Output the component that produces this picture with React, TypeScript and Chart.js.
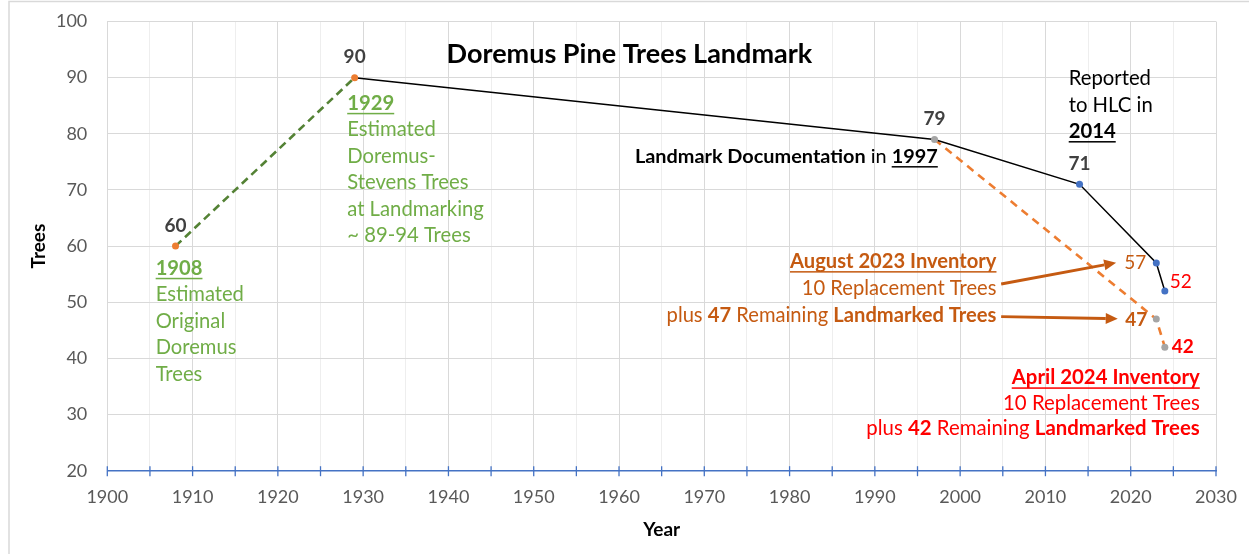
import React, { useEffect, useRef } from 'react';
import { Chart, registerables } from 'chart.js';

Chart.register(...registerables);

// ---------- data ----------
const X_MIN = 1900;
const X_MAX = 2030;
const X_STEP = 5;
const Y_MIN = 20;
const Y_MAX = 100;
const Y_STEP = 10;

const earlyYears = [1908, 1929];
const earlyTrees = [60, 90];

const documentedYears = [1929, 1997, 2014, 2023, 2024];
const documentedTrees = [90, 79, 71, 57, 52];

const landmarkedYears = [1997, 2023, 2024];
const landmarkedTrees = [79, 47, 42];

// ---------- styles ----------
const FONT = 'Lato, "Open Sans", "DejaVu Sans", sans-serif';
const GREEN = '#70AD47';
const DARK_GREEN = '#548235';
const ORANGE = '#ED7D31';
const BROWN = '#C55A11';
const RED = '#FF0000';
const GRAY_PT = '#A5A5A5';
const BLUE = '#4472C4';
const LABEL_DARK = '#404040';
const TICK_COLOR = '#595959';

type LabelStyle = { pos: 'top' | 'left' | 'right'; color: string; bold: boolean; dx?: number; dy?: number } | null;

const earlyLabels: LabelStyle[] = [
  { pos: 'top', color: LABEL_DARK, bold: true },
  { pos: 'top', color: LABEL_DARK, bold: true },
];
const documentedLabels: LabelStyle[] = [
  null,
  { pos: 'top', color: LABEL_DARK, bold: true },
  { pos: 'top', color: LABEL_DARK, bold: true },
  { pos: 'left', color: BROWN, bold: false, dx: -10, dy: 0 },
  { pos: 'right', color: RED, bold: false, dx: 5, dy: -9.5 },
];
const landmarkedLabels: LabelStyle[] = [
  null,
  { pos: 'left', color: BROWN, bold: true, dx: -9, dy: 1 },
  { pos: 'right', color: RED, bold: true, dx: 7, dy: 0 },
];

type Seg = { t: string; b?: boolean; u?: boolean };
type Block = {
  at: [number, number];
  align: 'left' | 'right' | 'center';
  color: string;
  lh: number;
  fit: [number, number];
  lines: Seg[][];
};

const blocks: Block[] = [
  {
    at: [1961.22, 92.61], align: 'center', color: '#000000', lh: 0, fit: [0, 366],
    lines: [[{ t: 'Doremus Pine Trees Landmark', b: true }]],
  },
  {
    at: [1905.67, 54.86], align: 'left', color: GREEN, lh: 26.4, fit: [1, 88.3],
    lines: [
      [{ t: '1908', b: true, u: true }],
      [{ t: 'Estimated' }],
      [{ t: 'Original' }],
      [{ t: 'Doremus' }],
      [{ t: 'Trees' }],
    ],
  },
  {
    at: [1928.13, 84.24], align: 'left', color: GREEN, lh: 26.5, fit: [4, 136.7],
    lines: [
      [{ t: '1929', b: true, u: true }],
      [{ t: 'Estimated' }],
      [{ t: 'Doremus-' }],
      [{ t: 'Stevens Trees' }],
      [{ t: 'at Landmarking' }],
      [{ t: '~ 89-94 Trees' }],
    ],
  },
  {
    at: [1997.38, 74.75], align: 'right', color: '#000000', lh: 0, fit: [0, 303.3],
    lines: [[{ t: 'Landmark Documentation', b: true }, { t: ' in ' }, { t: '1997', b: true, u: true }]],
  },
  {
    at: [2012.73, 88.69], align: 'left', color: '#000000', lh: 26.6, fit: [0, 82.3],
    lines: [[{ t: 'Reported' }], [{ t: 'to HLC in' }], [{ t: '2014', b: true, u: true }]],
  },
  {
    at: [2004.26, 56.05], align: 'right', color: BROWN, lh: 26.7, fit: [2, 330],
    lines: [
      [{ t: 'August 2023 Inventory', b: true, u: true }],
      [{ t: '10 Replacement Trees' }],
      [{ t: 'plus ' }, { t: '47', b: true }, { t: ' Remaining ' }, { t: 'Landmarked Trees', b: true }],
    ],
  },
  {
    at: [2028.1, 35.36], align: 'right', color: RED, lh: 25.5, fit: [2, 333.7],
    lines: [
      [{ t: 'April 2024 Inventory', b: true, u: true }],
      [{ t: '10 Replacement Trees' }],
      [{ t: 'plus ' }, { t: '42', b: true }, { t: ' Remaining ' }, { t: 'Landmarked Trees', b: true }],
    ],
  },
];

const arrows: { from: [number, number]; to: [number, number] }[] = [
  { from: [2004.81, 53.25], to: [2018.29, 57.05] },
  { from: [2004.81, 47.43], to: [2018.48, 47.07] },
];

// ---------- helpers ----------
const fontOf = (bold: boolean | undefined, size: number) => `${bold ? 'bold ' : ''}${size}px ${FONT}`;

function measureLine(ctx: CanvasRenderingContext2D, segs: Seg[], size: number) {
  return segs.map((s) => {
    ctx.font = fontOf(s.b, size);
    return ctx.measureText(s.t).width;
  });
}

function drawLine(ctx: CanvasRenderingContext2D, segs: Seg[], x: number, y: number, align: string, size: number, color: string) {
  const widths = measureLine(ctx, segs, size);
  const total = widths.reduce((a, b) => a + b, 0);
  let cx = align === 'left' ? x : align === 'right' ? x - total : x - total / 2;
  ctx.textAlign = 'left';
  ctx.textBaseline = 'alphabetic';
  ctx.fillStyle = color;
  segs.forEach((s, i) => {
    ctx.font = fontOf(s.b, size);
    ctx.fillText(s.t, cx, y);
    if (s.u) {
      ctx.fillRect(cx, y + size * 0.14, widths[i], Math.max(1.3, size * 0.075));
    }
    cx += widths[i];
  });
}

const overlayPlugin = {
  id: 'overlay',
  beforeDraw(chart: any) {
    const { ctx, width, height } = chart;
    ctx.save();
    ctx.strokeStyle = '#D9D9D9';
    ctx.lineWidth = 1.5;
    ctx.beginPath();
    ctx.moveTo(9, height);
    ctx.lineTo(9, 1.5);
    ctx.lineTo(width, 1.5);
    ctx.stroke();
    ctx.restore();
  },
  beforeDatasetsDraw(chart: any) {
    const { ctx } = chart;
    const xs = chart.scales.x;
    const yb = chart.chartArea.bottom;
    ctx.save();
    ctx.strokeStyle = BLUE;
    ctx.lineWidth = 1.3;
    xs.ticks.forEach((t: any) => {
      const px = xs.getPixelForValue(t.value);
      ctx.beginPath();
      ctx.moveTo(px, yb - 4.5);
      ctx.lineTo(px, yb + 5.5);
      ctx.stroke();
    });
    ctx.restore();
  },
  afterDatasetsDraw(chart: any) {
    const { ctx } = chart;
    const xs = chart.scales.x;
    const ys = chart.scales.y;
    ctx.save();

    // data labels
    chart.data.datasets.forEach((ds: any, di: number) => {
      const meta = chart.getDatasetMeta(di);
      const styles: LabelStyle[] = ds.labelStyles || [];
      meta.data.forEach((el: any, i: number) => {
        const st = styles[i];
        if (!st) return;
        const text = String(ds.data[i].y);
        ctx.font = fontOf(st.bold, 19);
        ctx.fillStyle = st.color;
        ctx.textBaseline = 'middle';
        if (st.pos === 'top') {
          ctx.textAlign = 'center';
          ctx.fillText(text, el.x, el.y - 20.5);
        } else if (st.pos === 'left') {
          ctx.textAlign = 'right';
          ctx.fillText(text, el.x + (st.dx || 0), el.y + (st.dy || 0));
        } else {
          ctx.textAlign = 'left';
          ctx.fillText(text, el.x + (st.dx || 0), el.y + (st.dy || 0));
        }
      });
    });

    // text blocks
    blocks.forEach((bl) => {
      const base = 20;
      const w = measureLine(ctx, bl.lines[bl.fit[0]], base).reduce((a, b) => a + b, 0);
      const size = (base * bl.fit[1]) / w;
      const x = xs.getPixelForValue(bl.at[0]);
      const y = ys.getPixelForValue(bl.at[1]);
      bl.lines.forEach((ln, li) => drawLine(ctx, ln, x, y + li * bl.lh, bl.align, size, bl.color));
    });

    // arrows
    arrows.forEach((a) => {
      const x1 = xs.getPixelForValue(a.from[0]);
      const y1 = ys.getPixelForValue(a.from[1]);
      const x2 = xs.getPixelForValue(a.to[0]);
      const y2 = ys.getPixelForValue(a.to[1]);
      const ang = Math.atan2(y2 - y1, x2 - x1);
      const head = 12;
      const half = 5.5;
      const bx = x2 - head * Math.cos(ang);
      const by = y2 - head * Math.sin(ang);
      ctx.strokeStyle = BROWN;
      ctx.fillStyle = BROWN;
      ctx.lineWidth = 2.8;
      ctx.beginPath();
      ctx.moveTo(x1, y1);
      ctx.lineTo(bx, by);
      ctx.stroke();
      ctx.beginPath();
      ctx.moveTo(x2, y2);
      ctx.lineTo(bx + half * Math.sin(ang), by - half * Math.cos(ang));
      ctx.lineTo(bx - half * Math.sin(ang), by + half * Math.cos(ang));
      ctx.closePath();
      ctx.fill();
    });

    ctx.restore();
  },
};

export default function App() {
  const canvasRef = useRef<HTMLCanvasElement | null>(null);

  useEffect(() => {
    document.body.style.margin = '0';
    const canvas = canvasRef.current;
    if (!canvas) return;

    const chart = new Chart(canvas, {
      type: 'line',
      data: {
        datasets: [
          {
            label: 'Estimated',
            data: earlyYears.map((x, i) => ({ x, y: earlyTrees[i] })),
            borderColor: DARK_GREEN,
            borderWidth: 2.6,
            borderDash: [8, 5],
            pointRadius: 3.5,
            pointBackgroundColor: ORANGE,
            pointBorderWidth: 0,
            tension: 0,
            labelStyles: earlyLabels,
          } as any,
          {
            label: 'Documented',
            data: documentedYears.map((x, i) => ({ x, y: documentedTrees[i] })),
            borderColor: '#000000',
            borderWidth: 1.5,
            pointRadius: [0, 3.5, 3.5, 3.5, 3.5],
            pointBackgroundColor: [ORANGE, GRAY_PT, BLUE, BLUE, BLUE],
            pointBorderWidth: 0,
            tension: 0,
            labelStyles: documentedLabels,
          } as any,
          {
            label: 'Landmarked',
            data: landmarkedYears.map((x, i) => ({ x, y: landmarkedTrees[i] })),
            borderColor: ORANGE,
            borderWidth: 2.6,
            borderDash: [8, 6],
            pointRadius: [0, 3.5, 3.5],
            pointBackgroundColor: GRAY_PT,
            pointBorderWidth: 0,
            tension: 0,
            labelStyles: landmarkedLabels,
          } as any,
        ],
      },
      options: {
        animation: false,
        responsive: true,
        maintainAspectRatio: false,
        layout: { padding: { top: 21.5, right: 33, left: 0, bottom: 0 } },
        plugins: {
          legend: { display: false },
          tooltip: { enabled: false },
          title: { display: false },
        },
        scales: {
          x: {
            type: 'linear',
            min: X_MIN,
            max: X_MAX,
            ticks: {
              stepSize: X_STEP,
              autoSkip: false,
              maxRotation: 0,
              padding: 16,
              color: TICK_COLOR,
              font: { family: FONT, size: 18 },
              callback: (v: any) => (Number(v) % 10 === 0 ? String(v) : ''),
            },
            grid: {
              color: (c: any) => (c.tick && c.tick.value % 10 === 0 ? '#D9D9D9' : '#EEEEEE'),
              drawTicks: false,
              lineWidth: 1,
            },
            border: { color: BLUE, width: 1.5 },
            title: {
              display: true,
              text: 'Year',
              color: '#000000',
              font: { family: FONT, size: 19, weight: 'bold' },
              padding: { top: 0, bottom: 12.6 },
            },
            afterFit: (s: any) => {
              s.height = 83.3;
              s.paddingLeft = 0;
              s.paddingRight = 0;
            },
          },
          y: {
            min: Y_MIN,
            max: Y_MAX,
            ticks: {
              stepSize: Y_STEP,
              padding: 20,
              color: TICK_COLOR,
              font: { family: FONT, size: 18 },
            },
            grid: { color: '#D9D9D9', drawTicks: false, lineWidth: 1 },
            border: { color: '#D9D9D9', width: 1 },
            title: {
              display: true,
              text: 'Trees',
              color: '#000000',
              font: { family: FONT, size: 19, weight: 'bold' },
              padding: { top: 27, bottom: 0 },
            },
            afterFit: (s: any) => {
              s.width = 107.3;
              s.paddingTop = 0;
              s.paddingBottom = 0;
            },
          },
        },
      } as any,
      plugins: [overlayPlugin],
    });

    let alive = true;
    if ((document as any).fonts) {
      Promise.all([
        (document as any).fonts.load(`18px Lato`),
        (document as any).fonts.load(`bold 18px Lato`),
      ])
        .catch(() => null)
        .then(() => {
          if (alive) chart.update();
        });
    }

    return () => {
      alive = false;
      chart.destroy();
    };
  }, []);

  return (
    <div style={{ position: 'fixed', left: 0, top: 0, width: 1249, height: 554, background: '#ffffff' }}>
      <canvas ref={canvasRef} style={{ display: 'block' }} />
    </div>
  );
}
